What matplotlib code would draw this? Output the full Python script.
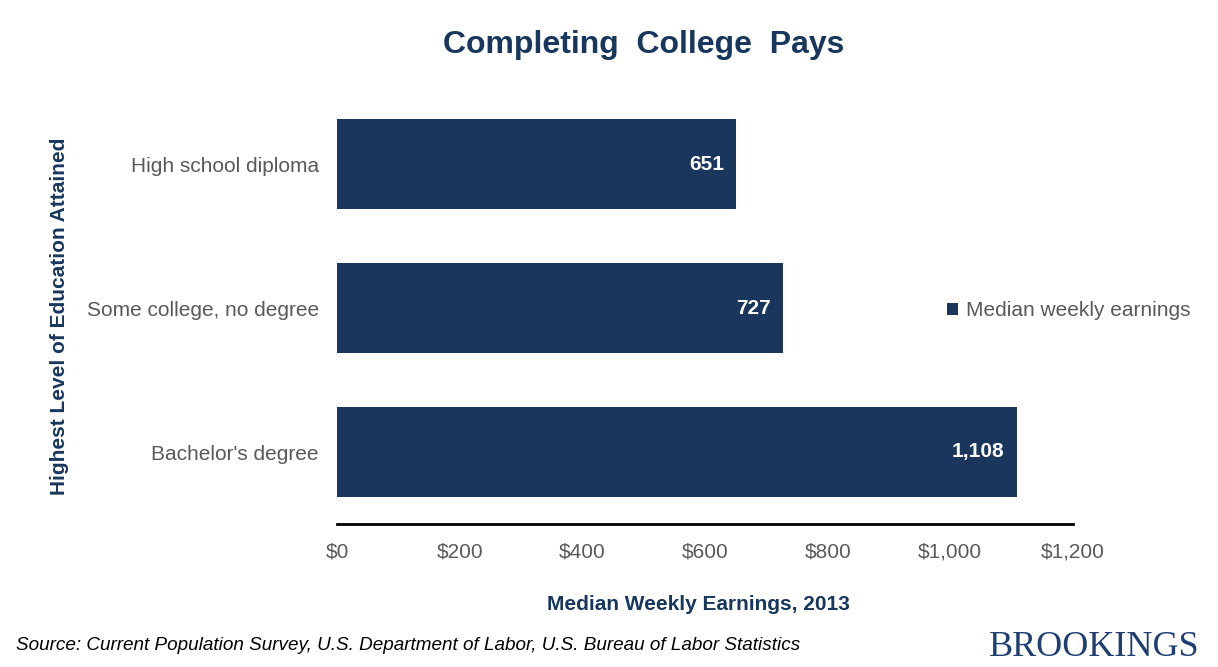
import matplotlib
matplotlib.use("Agg")
import matplotlib.pyplot as plt

categories = ["Bachelor's degree", "Some college, no degree", "High school diploma"]
values = [1108, 727, 651]
xticks = [0, 200, 400, 600, 800, 1000, 1200]
xtick_labels = ["$0", "$200", "$400", "$600", "$800", "$1,000", "$1,200"]

navy = "#1B365D"
title_c = "#17375E"
grey = "#595959"

plt.rcParams['font.family'] = ['Liberation Sans', 'DejaVu Sans']

fig = plt.figure(figsize=(12.18, 6.67), dpi=100)
ax = fig.add_axes([337/1218, 1-524/667, (1073-337)/1218, (524-92)/667])

ypos = list(range(len(categories)))
ax.barh(ypos, values, height=0.625, color=navy, label="Median weekly earnings")
for y, v in zip(ypos, values):
    ax.annotate(f"{v:,}", (v, y), xytext=(-9, 0), textcoords='offset points',
                ha='right', va='center', color='white', fontsize=15, fontweight='bold')

ax.set_xlim(0, 1200)
ax.set_ylim(-0.5, 2.5)
ax.set_yticks(ypos)
ax.set_yticklabels(categories, fontsize=15, color=grey)
ax.set_xticks(xticks)
ax.set_xticklabels(xtick_labels, fontsize=15, color=grey)
ax.tick_params(axis='both', length=0)
ax.tick_params(axis='y', pad=13)
ax.tick_params(axis='x', pad=13)
for s in ['top', 'right', 'left']:
    ax.spines[s].set_visible(False)
ax.spines['bottom'].set_linewidth(2)
ax.spines['bottom'].set_color('black')

fig.text(644/1218, 1-45/667, "Completing  College  Pays", ha='center', va='center',
         fontsize=23, fontweight='bold', color=title_c)
fig.text(60/1218, 1-316/667, "Highest Level of Education Attained", rotation=90,
         ha='center', va='center', fontsize=15, fontweight='bold', color=title_c)
fig.text(698/1218, 1-604/667, "Median Weekly Earnings, 2013", ha='center', va='center',
         fontsize=15, fontweight='bold', color=title_c)

leg = ax.legend(loc='center left', bbox_to_anchor=(928/1218, 1-311/667),
                bbox_transform=fig.transFigure, frameon=False, fontsize=15,
                handlelength=0.55, handleheight=0.55, handletextpad=0.35)
for t in leg.get_texts():
    t.set_color(grey)

fig.text(16/1218, 1-645/667, "Source: Current Population Survey, U.S. Department of Labor, U.S. Bureau of Labor Statistics",
         ha='left', va='center', fontsize=13.6, style='italic', color='black')
fig.text(1200/1218, 1-648/667, "BROOKINGS", ha='right', va='center', fontsize=26,
         color="#1F3F73", family=['Liberation Serif', 'DejaVu Serif'])

fig.savefig("out.png", dpi=100)
